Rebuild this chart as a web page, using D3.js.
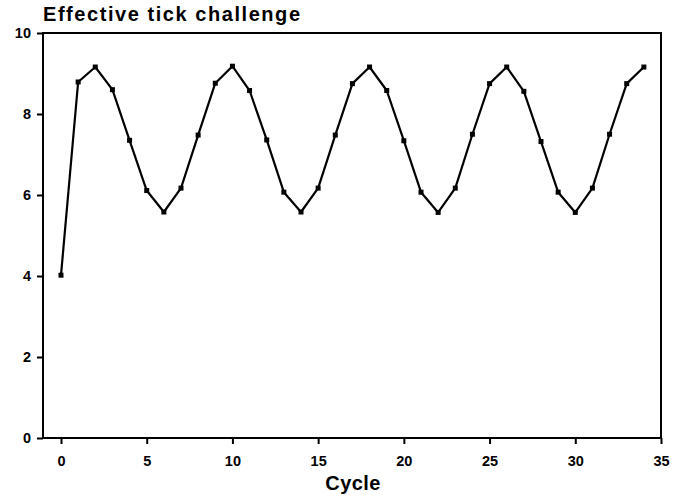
<!DOCTYPE html>
<html>
<head>
<meta charset="utf-8">
<script src="https://cdn.jsdelivr.net/npm/d3@7"></script>
<style>
  html, body { margin: 0; padding: 0; background: #fff; }
  svg { display: block; font-family: "Liberation Sans", Arial, sans-serif; }
  .tick text { font-weight: bold; font-size: 14.5px; fill: #000; }
</style>
</head>
<body>
<svg id="chart" width="674" height="499"></svg>
<script>
const cycles = [0, 1, 2, 3, 4, 5, 6, 7, 8, 9, 10, 11, 12, 13, 14, 15, 16, 17,
  18, 19, 20, 21, 22, 23, 24, 25, 26, 27, 28, 29, 30, 31, 32, 33, 34];
const challenge = [4.02, 8.79, 9.16, 8.60, 7.35, 6.11, 5.58, 6.17, 7.48, 8.76, 9.18, 8.58,
  7.36, 6.07, 5.58, 6.17, 7.48, 8.75, 9.16, 8.58, 7.34, 6.07, 5.57, 6.17, 7.50, 8.75,
  9.16, 8.56, 7.32, 6.07, 5.57, 6.17, 7.50, 8.75, 9.16];
const xTicks = [0, 5, 10, 15, 20, 25, 30, 35];
const yTicks = [0, 2, 4, 6, 8, 10];

const svg = d3.select("#chart");
const plotLeft = 43, plotRight = 661, plotTop = 33, plotBottom = 438;

const x = d3.scaleLinear().domain([-1.05, 35]).range([plotLeft, plotRight]);
const y = d3.scaleLinear().domain([0, 10]).range([plotBottom, plotTop]);

// frame
svg.append("rect")
  .attr("x", plotLeft).attr("y", plotTop)
  .attr("width", plotRight - plotLeft).attr("height", plotBottom - plotTop)
  .attr("fill", "none").attr("stroke", "#000").attr("stroke-width", 2);

const xAxis = svg.append("g")
  .attr("transform", `translate(0,${plotBottom})`)
  .call(d3.axisBottom(x).tickValues(xTicks).tickSize(6).tickPadding(12));
const yAxis = svg.append("g")
  .attr("transform", `translate(${plotLeft},0)`)
  .call(d3.axisLeft(y).tickValues(yTicks).tickSize(6).tickPadding(6));

[xAxis, yAxis].forEach((g) => {
  g.select(".domain").remove();
  g.selectAll(".tick line").attr("stroke", "#000").attr("stroke-width", 2);
});

const pts = cycles.map((c, i) => [c, challenge[i]]);

svg.append("path")
  .datum(pts)
  .attr("fill", "none")
  .attr("stroke", "#000")
  .attr("stroke-width", 2.2)
  .attr("stroke-linejoin", "round")
  .attr("d", d3.line().x((d) => x(d[0])).y((d) => y(d[1])));

svg.selectAll("rect.pt")
  .data(pts)
  .join("rect")
  .attr("class", "pt")
  .attr("x", (d) => x(d[0]) - 2.5)
  .attr("y", (d) => y(d[1]) - 2.5)
  .attr("width", 5).attr("height", 5)
  .attr("fill", "#000");

svg.append("text")
  .attr("x", 43).attr("y", 21)
  .attr("font-size", 20).attr("font-weight", "bold")
  .attr("textLength", 257).attr("lengthAdjust", "spacing")
  .text("Effective tick challenge");

svg.append("text")
  .attr("x", 353).attr("y", 490)
  .attr("text-anchor", "middle")
  .attr("font-size", 20).attr("font-weight", "bold")
  .attr("letter-spacing", 0.4)
  .text("Cycle");
</script>
</body>
</html>
